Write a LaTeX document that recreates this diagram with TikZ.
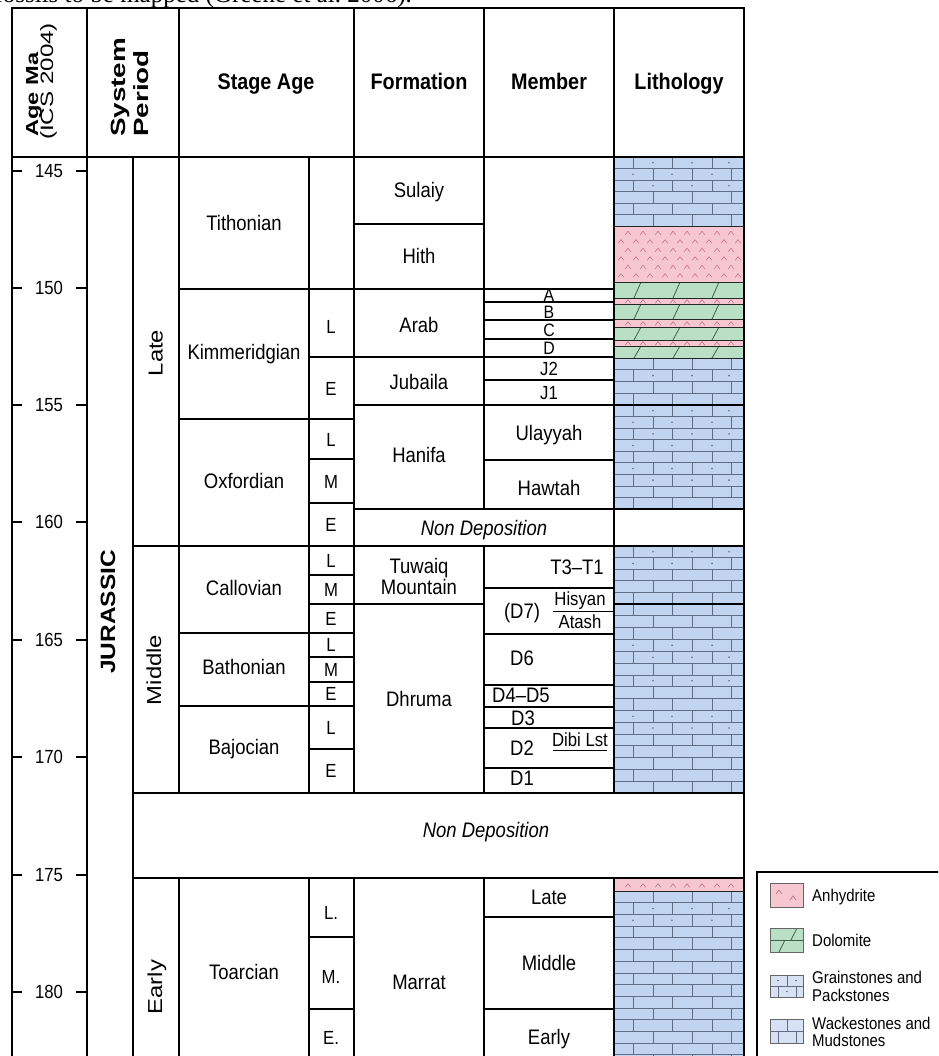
\documentclass[tikz,border=0pt]{standalone}
\usepackage{fontspec}
\setmainfont{Liberation Sans}[FakeStretch=0.88]
\newfontfamily\rotf{Liberation Sans}[FakeStretch=1.18]
\newfontfamily\rotfh{Liberation Sans}[FakeStretch=1.35]
\newfontfamily\capf{Liberation Serif}
\definecolor{wb}{RGB}{194,213,240}
\definecolor{wbl}{RGB}{214,226,244}
\definecolor{bline}{RGB}{95,110,132}
\definecolor{ap}{RGB}{246,199,209}
\definecolor{achev}{RGB}{196,118,140}
\definecolor{dg}{RGB}{185,224,197}
\definecolor{dline}{RGB}{60,100,72}
\tikzset{
  tbl/.style={line width=1.3pt, black},
  sep/.style={line width=0.9pt, black!85},
  brk/.style={line width=0.7pt, bline},
  chv/.style={line width=0.6pt, achev},
  sla/.style={line width=0.8pt, dline},
  hd/.style={inner sep=0, text height=16pt, text depth=0pt, font=\bfseries\fontsize{22.5}{24}\selectfont},
  tx/.style={inner sep=0, text height=15pt, text depth=0pt, font=\fontsize{21}{23}\selectfont},
  it/.style={inner sep=0, text height=15pt, text depth=0pt, font=\itshape\fontsize{21}{23}\selectfont},
  sm/.style={inner sep=0, text height=13.5pt, text depth=0pt, font=\fontsize{19}{21}\selectfont},
  xs/.style={inner sep=0, text height=13pt, text depth=0pt, font=\fontsize{18}{19}\selectfont},
  num/.style={inner sep=0, text height=13.5pt, text depth=0pt, font=\fontsize{19}{21}\selectfont},
  rt/.style={inner sep=0, rotate=90, anchor=base, font=\rotf\fontsize{20.2}{22}\selectfont},
  rth/.style={inner sep=0, rotate=90, anchor=base west},
  lg/.style={inner sep=0, anchor=west, text height=12pt, text depth=0pt, font=\fontsize{17}{18}\selectfont},
  sw/.style={line width=0.8pt, black!60},
}
\newcommand\bricks[5]{%
  \fill[wb] (614,#1) rectangle (744,#2);
  \pgfmathsetmacro\bh{(#2-#1)/#3}
  \foreach \k in {1,...,#3}{
    \pgfmathsetmacro\ya{#1+(\k-1)*\bh}
    \pgfmathsetmacro\yb{#1+\k*\bh}
    \pgfmathtruncatemacro\bp{mod(\k+#4,2)}
    \ifnum\bp=1 \def\jl{633,672,712}\else\def\jl{653,692,731}\fi
    \foreach \jx in \jl {\draw[brk] (\jx,\ya) -- (\jx,\yb);}
    \draw[brk] (614,\yb) -- (744,\yb);
  }
  \foreach \k in {#5}{
    \pgfmathsetmacro\yc{#1+(\k-0.5)*\bh}
    \pgfmathtruncatemacro\bp{mod(\k+#4,2)}
    \ifnum\bp=1 \def\dlst{653,692,729}\else\def\dlst{633,672,712}\fi
    \foreach \dx in \dlst {\fill[bline] (\dx,\yc) circle[radius=0.9pt];}
  }
}
\newcommand\chev[2]{\draw[chv] ({#1-2.8},{#2+1.8}) -- (#1,{#2-1.8}) -- ({#1+2.8},{#2+1.8});}
\newcommand\chevrow[2]{% y, parity
  \ifnum#2=1
    \foreach \cx in {628,643,658,673,687,702,717,731} {\chev{\cx}{#1}}
  \else
    \foreach \cx in {621,636,650,665,680,695,709,724,738} {\chev{\cx}{#1}}
  \fi}
\newcommand\dolo[2]{%
  \fill[dg] (614,#1) rectangle (744,#2);
  \foreach \sx in {634,673,712} {\draw[sla] (\sx,#2) -- ({\sx+7},#1);}
}
\newcommand\anhy[2]{\fill[ap] (614,#1) rectangle (744,#2);}
\begin{document}
\begin{tikzpicture}[x=1pt,y=-1pt]
\useasboundingbox (0,0) rectangle (938,1056);
\clip (0,0) rectangle (938,1056);
\fill[white] (0,0) rectangle (938,1056);

% caption fragment (cut by the top edge, as in the source)
\node[anchor=base east, inner sep=0, font=\capf\fontsize{25}{26}\selectfont] (cap) at (412,3) {fossils to be mapped (Greene et al.\ 2006).};

% ---------------- lithology ----------------
\bricks{157}{226}{6}{0}{1,2,3}
\anhy{226}{282}
\foreach \r/\p in {233/1,241.5/0,250/1,258.5/0,267/1,275.5/0} {\chevrow{\r}{\p}}
\dolo{282}{298}
\anhy{298}{304} \chevrow{301.5}{1}
\dolo{304}{319}
\anhy{319}{327} \chevrow{323.5}{1}
\dolo{327}{340}
\anhy{340}{346} \chevrow{343.5}{1}
\dolo{346}{358}
\bricks{358}{405}{4}{1}{2}
\bricks{405}{509}{9}{0}{1,2,3,4,6,7}
\bricks{546}{604}{5}{0}{1,2}
\bricks{604}{793}{16}{0}{4,5,7,10,11}
\anhy{878}{891} \chevrow{885.5}{1}
\bricks{891}{1066.5}{15}{1}{2,3}
\foreach \yy in {226,282,298,304,319,327,340,346,358,891} {\draw[sep] (614,\yy) -- (744,\yy);}

% ---------------- table grid ----------------
\draw[tbl] (12,8) rectangle (744,157);
\foreach \x in {87,179,354,484,614} {\draw[tbl] (\x,8) -- (\x,157);}
\foreach \x in {12,87,133,744} {\draw[tbl] (\x,157) -- (\x,1062);}
\foreach \x in {179,309,354,614} {\draw[tbl] (\x,157) -- (\x,793); \draw[tbl] (\x,878) -- (\x,1062);}
\draw[tbl] (484,157) -- (484,509) (484,546) -- (484,793) (484,878) -- (484,1062);
% long horizontals
\draw[tbl] (133,546) -- (744,546);
\draw[tbl] (133,793) -- (744,793);
\draw[tbl] (133,878) -- (744,878);
\draw[tbl] (179,289) -- (614,289);
\draw[tbl] (309,357) -- (614,357);
\draw[tbl] (354,405) -- (744,405);
\draw[tbl] (354,509) -- (744,509);
\draw[tbl] (354,604) -- (484,604);
\draw[line width=1.6pt] (614,604) -- (744,604);
% stage
\foreach \yy in {419,633,706} {\draw[tbl] (179,\yy) -- (354,\yy);}
% sub-stage
\foreach \yy in {459,503,575,604,657,682,749,937,1009} {\draw[tbl] (309,\yy) -- (354,\yy);}
% formation
\draw[tbl] (354,224) -- (484,224);
% member
\foreach \yy in {302,320,339,380,460,588,634,685,707,728,768,917,1009} {\draw[tbl] (484,\yy) -- (614,\yy);}
\draw[line width=1pt] (553,611) -- (613,611);
\draw[line width=1pt] (553,750) -- (607,750);

% age ticks and numbers
\foreach \a/\yy in {145/171,150/288,155/405,160/522,165/640,170/757,175/875,180/992} {
  \draw[tbl] (12,\yy) -- (22,\yy);
  \draw[tbl] (76,\yy) -- (87,\yy);
  \node[num] (age\a) at (49,\yy) {\a};
}

% ---------------- headers ----------------
\node[rth, font=\rotfh\bfseries\fontsize{17.5}{19}\selectfont] (hage) at (38,137) {Age Ma};
\node[rth, font=\rotfh\fontsize{17.9}{19}\selectfont] (hics) at (53,140) {(ICS 2004)};
\node[rth, font=\rotfh\bfseries\fontsize{20.6}{22}\selectfont] (hsys) at (125.7,137) {System};
\node[rth, font=\rotfh\bfseries\fontsize{20.6}{22}\selectfont] (hper) at (148,137) {Period};
\node[hd] (hstage) at (266,82) {Stage Age};
\node[hd] (hform) at (419,82) {Formation};
\node[hd] (hmem) at (549,82) {Member};
\node[hd] (hlith) at (679,82) {Lithology};

% ---------------- period / epoch ----------------
\node[rt, font=\rotf\bfseries\fontsize{20.7}{22}\selectfont] (jur) at (115,612) {JURASSIC};
\node[rt] (late) at (162.5,353) {Late};
\node[rt] (mid) at (161,670) {Middle};
\node[rt] (early) at (162,987) {Early};

% ---------------- stages ----------------
\node[tx] (tith) at (244,223) {Tithonian};
\node[tx] (kimm) at (244,352) {Kimmeridgian};
\node[tx] (oxf) at (244,481) {Oxfordian};
\node[tx] (call) at (244,588) {Callovian};
\node[tx] (bath) at (244,667) {Bathonian};
\node[tx] (baj) at (244,747) {Bajocian};
\node[tx] (toar) at (244,972) {Toarcian};
\foreach \n/\t/\yy in {a/L/327,b/E/389,c/L/440,d/M/482,e/E/525,f/L/561,g/M/590,h/E/619,i/L/645,j/M/670,k/E/694,l/L/728,m/E/771,n/L./913,o/M./977,p/E./1038} {
  \node[sm] (ss\n) at (331,\yy) {\t};
}

% ---------------- formations ----------------
\node[tx] (sul) at (419,190) {Sulaiy};
\node[tx] (hith) at (419,256) {Hith};
\node[tx] (arab) at (419,325) {Arab};
\node[tx] (jub) at (419,382) {Jubaila};
\node[tx] (han) at (419,455) {Hanifa};
\node[tx] (tuw) at (419,566) {Tuwaiq};
\node[tx] (mtn) at (419,587) {Mountain};
\node[tx] (dhr) at (419,699) {Dhruma};
\node[tx] (mar) at (419,982) {Marrat};
\node[it] (nd1) at (484,528) {Non Deposition};
\node[it] (nd2) at (486,830) {Non Deposition};

% ---------------- members ----------------
\node[xs] (mA) at (549,295) {A};
\node[xs] (mB) at (549,312) {B};
\node[xs] (mC) at (549,330) {C};
\node[xs] (mD) at (549,348) {D};
\node[sm] (mJ2) at (549,369) {J2};
\node[sm] (mJ1) at (549,393) {J1};
\node[tx] (mUl) at (549,433) {Ulayyah};
\node[tx] (mHa) at (549,488) {Hawtah};
\node[tx] (mT) at (577,567) {T3--T1};
\node[tx] (mD7) at (522,611) {(D7)};
\node[sm] (mHi) at (580,599) {Hisyan};
\node[sm] (mAt) at (580,622) {Atash};
\node[tx] (mD6) at (522,658) {D6};
\node[tx] (mD45) at (521,695) {D4--D5};
\node[tx] (mD3) at (523,718) {D3};
\node[tx] (mD2) at (522,748) {D2};
\node[sm] (mDibi) at (580,740) {Dibi Lst};
\node[tx] (mD1) at (522,778) {D1};
\node[tx] (mLate) at (549,897) {Late};
\node[tx] (mMid) at (549,963) {Middle};
\node[tx] (mEarly) at (549,1037) {Early};

% ---------------- legend ----------------
\draw[tbl] (757,872) rectangle (960,1080);
% anhydrite swatch
\fill[ap] (770,883) rectangle (803,907);
\draw[chv, line width=0.7pt] (776,894) -- (779,890) -- (782,894);
\draw[chv, line width=0.7pt] (790,900) -- (793,896) -- (796,900);
\draw[sw] (770,883) rectangle (803,907);
% dolomite swatch
\fill[dg] (770,928) rectangle (803,952);
\draw[sla] (770,940) -- (803,940);
\draw[sla] (779,952) -- (785,940);
\draw[sla] (791,940) -- (797,928);
\draw[sw] (770,928) rectangle (803,952);
% grainstone swatch
\fill[wbl] (770,975) rectangle (803,997);
\draw[brk] (770,986) -- (803,986) (787,975) -- (787,986) (778,986) -- (778,997) (796,986) -- (796,997);
\fill[bline] (778,980.5) circle[radius=0.9pt];
\fill[bline] (796,980.5) circle[radius=0.9pt];
\fill[bline] (787,991.5) circle[radius=0.9pt];
\draw[sw] (770,975) rectangle (803,997);
% wackestone swatch
\fill[wbl] (770,1019) rectangle (803,1043);
\draw[brk] (770,1031) -- (803,1031) (787,1019) -- (787,1031) (778,1031) -- (778,1043) (796,1031) -- (796,1043);
\draw[sw] (770,1019) rectangle (803,1043);
\node[lg] (lgA) at (812,895) {Anhydrite};
\node[lg] (lgD) at (812,940) {Dolomite};
\node[lg] (lgG1) at (812,977) {Grainstones and};
\node[lg] (lgG2) at (812,995) {Packstones};
\node[lg] (lgW1) at (812,1023) {Wackestones and};
\node[lg] (lgW2) at (812,1040) {Mudstones};
\end{tikzpicture}
\end{document}
